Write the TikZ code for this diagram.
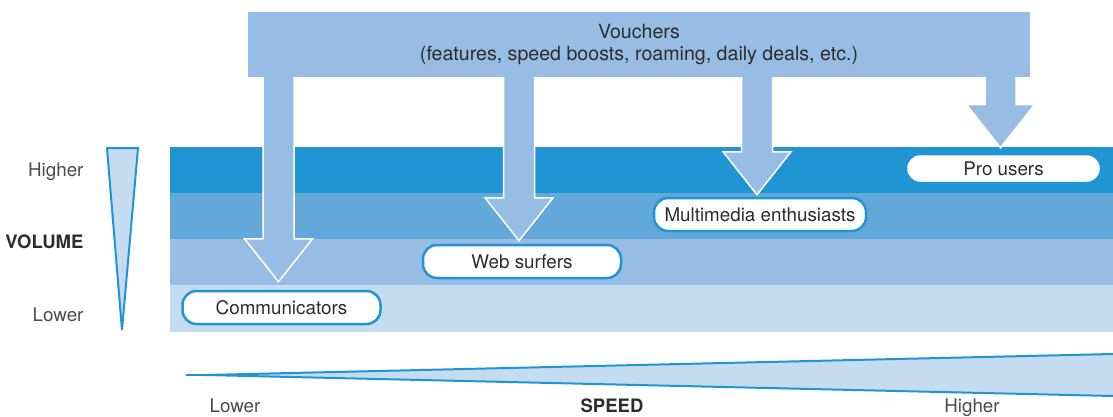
\documentclass[tikz,border=0pt]{standalone}
\usepackage{fontspec}
\setmainfont{TeX Gyre Heros}
\usetikzlibrary{calc}
\definecolor{bandA}{RGB}{32,149,211}
\definecolor{bandB}{RGB}{98,169,218}
\definecolor{bandC}{RGB}{151,189,228}
\definecolor{bandD}{RGB}{197,219,240}
\definecolor{ink}{RGB}{45,45,45}
\definecolor{greyink}{RGB}{75,75,75}
\newcommand{\offer}[2]{%
  \path (#1.north) ++(-3,-#2) coordinate (tip) (vouchers.south -| tip) coordinate (root);
  \filldraw [fill=bandC,draw=white,line width=1.5pt]
    ($(root)+(-15.5,0)$) -- ($(tip)+(-15.5,-43)$) -- ($(tip)+(-34,-43)$) -- (tip)
    -- ($(tip)+(34,-43)$) -- ($(tip)+(15.5,-43)$) -- ($(root)+(15.5,0)$);}

\begin{document}
\begin{tikzpicture}[x=1pt,y=-1pt,font=\fontsize{18.8}{22}\selectfont,
  seg/.style={fill=white,draw=bandA,line width=2.5pt,rounded corners=14pt,
    minimum height=33pt,text=ink,inner sep=0pt}]
\useasboundingbox (0,0) rectangle (1113,417);
\fill [bandA] (170,147) rectangle (1113,193);
\fill [bandB] (170,193) rectangle (1113,239);
\fill [bandC] (170,239) rectangle (1113,285);
\fill [bandD] (170,285) rectangle (1113,332);
\filldraw [fill=bandD,draw=bandA,line width=2pt] (107,148) -- (138,148) -- (122,330) -- cycle;
\filldraw [fill=bandD,draw=bandA,line width=2pt] (1113,354) -- (205,375) -- (1113,396);
\draw [bandA,line width=2pt] (186,375) -- (205,375);
  \node (vouchers) at (639,44.5) [fill=bandC,minimum width=782pt,minimum height=65pt,
    align=center,text=ink,font=\fontsize{19.6}{22}\selectfont]
    {Vouchers\\(features, speed boosts, roaming, daily deals, etc.)};
  \node (comm) at (281.5,307.5) [seg,minimum width=198pt] {Communicators};
  \node (web) at (522,261.5) [seg,minimum width=198pt] {Web surfers};
  \node (multi) at (760,214.5) [seg,minimum width=212pt] {Multimedia enthusiasts};
  \node (pro) at (1003.5,168.5) [seg,minimum width=195pt,minimum height=29pt] {Pro users};
  \offer{comm}{8}
  \offer{web}{3}
  \offer{multi}{2}
  \offer{pro}{5}
  \node (vhigh) at (87,176) [anchor=base east,text=greyink] {Higher};
  \node (volume) at (87,248) [anchor=base east,text=ink,font=\fontsize{18.5}{22}\selectfont\bfseries] {VOLUME};
  \node (vlow) at (87,321) [anchor=base east,text=greyink] {Lower};
  \node (slow) at (235,412) [anchor=base,text=greyink] {Lower};
  \node (speed) at (612,412) [anchor=base,text=ink,font=\fontsize{18.5}{22}\selectfont\bfseries] {SPEED};
  \node (shigh) at (972,412) [anchor=base,text=greyink] {Higher};
\end{tikzpicture}
\end{document}
